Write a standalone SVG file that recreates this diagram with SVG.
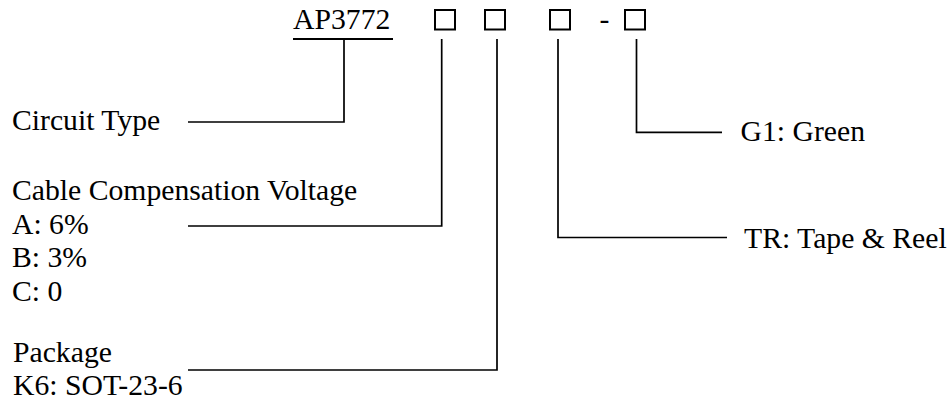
<svg xmlns="http://www.w3.org/2000/svg" width="950" height="401" viewBox="0 0 950 401">
<style>
text{font-family:"Liberation Serif","Times New Roman",serif;font-size:29.7px;fill:#000}
.ln{fill:none;stroke:#000;stroke-width:1.7}
.bx{fill:none;stroke:#000;stroke-width:2}
</style>
<rect width="950" height="401" fill="#fff"/>
<g id="part-number">
<text x="293" y="29">AP3772</text>
<line x1="293" y1="39" x2="393" y2="39" stroke="#000" stroke-width="2"/>
<rect class="bx" x="435" y="10" width="20" height="19.5"/>
<rect class="bx" x="485" y="10" width="20" height="19.5"/>
<rect class="bx" x="550" y="10" width="20" height="19.5"/>
<text x="604.5" y="29" text-anchor="middle">-</text>
<rect class="bx" x="625" y="10" width="20" height="19.5"/>
</g>
<g id="circuit-type"><text x="12" y="130">Circuit Type</text></g>
<g id="cable-comp">
<text x="12" y="200">Cable Compensation Voltage</text>
<text x="12" y="233.5">A: 6%</text>
<text x="12" y="267">B: 3%</text>
<text x="12" y="300.5">C: 0</text>
</g>
<g id="package">
<text x="13" y="362">Package</text>
<text x="13" y="395">K6: SOT-23-6</text>
</g>
<g id="tape-reel"><text x="744" y="248">TR: Tape &amp; Reel</text></g>
<g id="green"><text x="740.5" y="141">G1: Green</text></g>
<g id="connectors">
<polyline class="ln" points="344,39 344,122 188,122"/>
<polyline class="ln" points="441.7,39 441.7,226 188,226"/>
<polyline class="ln" points="497,39 497,370 188,370"/>
<polyline class="ln" points="558,39 558,237.5 727,237.5"/>
<polyline class="ln" points="636.5,39 636.5,132.3 722,132.3"/>
</g>
</svg>
